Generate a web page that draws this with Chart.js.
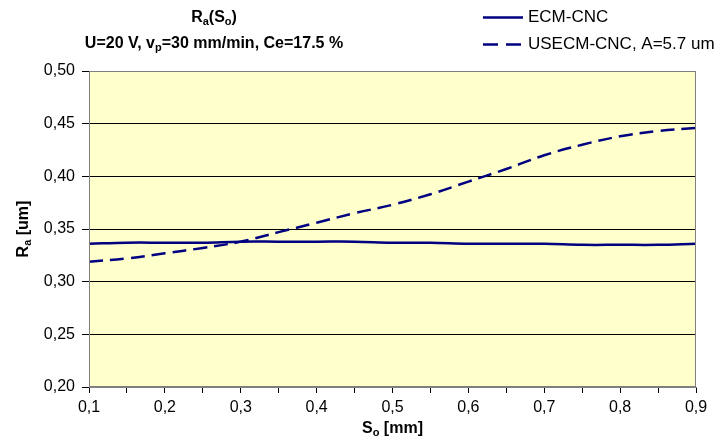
<!DOCTYPE html>
<html>
<head>
<meta charset="utf-8">
<script src="https://cdn.jsdelivr.net/npm/chart.js@4/dist/chart.umd.min.js"></script>
<style>
  html, body { margin: 0; padding: 0; background: #ffffff; }
  #wrap { width: 721px; height: 441px; position: relative; }
</style>
</head>
<body>
<div id="wrap"><canvas id="c" width="721" height="441"></canvas></div>
<script>
// ---- data ----
const soValues = [0.10, 0.15, 0.20, 0.25, 0.30, 0.35, 0.40, 0.45, 0.50, 0.55, 0.60, 0.65, 0.70, 0.75, 0.80, 0.85, 0.90];
const ecmCnc   = [0.336, 0.337, 0.337, 0.337, 0.338, 0.338, 0.338, 0.338, 0.337, 0.337, 0.336, 0.336, 0.336, 0.335, 0.335, 0.335, 0.336];
const usecmCnc = [0.319, 0.322, 0.327, 0.332, 0.338, 0.347, 0.356, 0.365, 0.373, 0.383, 0.395, 0.407, 0.420, 0.430, 0.438, 0.443, 0.446];
const seriesNames = ['ECM-CNC', 'USECM-CNC, A=5.7 um'];
const xTickValues = [0.1, 0.2, 0.3, 0.4, 0.5, 0.6, 0.7, 0.8, 0.9];
const xTickLabels = ['0,1', '0,2', '0,3', '0,4', '0,5', '0,6', '0,7', '0,8', '0,9'];
const yTickValues = [0.20, 0.25, 0.30, 0.35, 0.40, 0.45, 0.50];
const yTickLabels = ['0,20', '0,25', '0,30', '0,35', '0,40', '0,45', '0,50'];
const titleLine1 = [['R', false], ['a', true], ['(S', false], ['o', true], [')', false]];
const titleLine2 = [['U=20 V, v', false], ['p', true], ['=30 mm/min, Ce=17.5 %', false]];
const xTitle = [['S', false], ['o', true], [' [mm]', false]];
const yTitle = [['R', false], ['a', true], [' [um]', false]];

const FONT = '"Liberation Sans", Arial, sans-serif';
const NAVY = '#000080';

function richWidth(ctx, parts, size, bold) {
  let w = 0;
  for (const [t, sub] of parts) {
    ctx.font = (bold ? 'bold ' : '') + (sub ? Math.round(size * 0.7) : size) + 'px ' + FONT;
    w += ctx.measureText(t).width;
  }
  return w;
}
function drawRich(ctx, parts, x, y, size, bold, align) {
  const w = richWidth(ctx, parts, size, bold);
  let cx = align === 'center' ? x - w / 2 : (align === 'right' ? x - w : x);
  ctx.textBaseline = 'alphabetic';
  ctx.textAlign = 'left';
  for (const [t, sub] of parts) {
    ctx.font = (bold ? 'bold ' : '') + (sub ? Math.round(size * 0.7) : size) + 'px ' + FONT;
    ctx.fillText(t, cx, sub ? y + 3 : y);
    cx += ctx.measureText(t).width;
  }
}

const decorPlugin = {
  id: 'decor',
  beforeDraw(chart) {
    const { ctx, chartArea: a } = chart;
    ctx.save();
    ctx.fillStyle = '#ffffff';
    ctx.fillRect(0, 0, chart.width, chart.height);
    ctx.fillStyle = '#FFFFCC';
    ctx.fillRect(a.left, a.top, a.right - a.left, a.bottom - a.top);
    ctx.restore();
  },
  afterDraw(chart) {
    const { ctx, chartArea: a } = chart;
    ctx.save();
    ctx.strokeStyle = '#808080';
    ctx.lineWidth = 1;
    ctx.strokeRect(a.left + 0.5, a.top + 0.5, a.right - a.left - 1, a.bottom - a.top - 1);
    ctx.fillStyle = '#000000';
    drawRich(ctx, titleLine1, 214, 22, 16, true, 'center');
    drawRich(ctx, titleLine2, 214, 48, 16, true, 'center');
    drawRich(ctx, xTitle, (a.left + a.right) / 2, 433, 16, true, 'center');
    ctx.save();
    ctx.translate(28, (a.top + a.bottom) / 2);
    ctx.rotate(-Math.PI / 2);
    drawRich(ctx, yTitle, 0, 0, 16, true, 'center');
    ctx.restore();
    // legend
    const ds = chart.data.datasets;
    const ly = [17.5, 44.5];
    const lend = [523, 521];
    for (let i = 0; i < ds.length; i++) {
      ctx.strokeStyle = ds[i].borderColor;
      ctx.lineWidth = ds[i].borderWidth;
      ctx.setLineDash(ds[i].borderDash ? [15, 8] : []);
      ctx.beginPath();
      ctx.moveTo(483, ly[i]);
      ctx.lineTo(lend[i], ly[i]);
      ctx.stroke();
      ctx.setLineDash([]);
      ctx.fillStyle = '#000000';
      ctx.font = '17px ' + FONT;
      ctx.textBaseline = 'middle';
      ctx.textAlign = 'left';
      ctx.fillText(ds[i].label, 528, ly[i]);
    }
    ctx.restore();
  }
};

new Chart(document.getElementById('c'), {
  type: 'line',
  data: {
    datasets: [
      {
        label: seriesNames[0],
        data: soValues.map((x, i) => ({ x, y: ecmCnc[i] })),
        borderColor: NAVY, borderWidth: 2.5, pointRadius: 0, tension: 0.4, fill: false
      },
      {
        label: seriesNames[1],
        data: soValues.map((x, i) => ({ x, y: usecmCnc[i] })),
        borderColor: NAVY, borderWidth: 2.5, borderDash: [14, 7], pointRadius: 0, tension: 0.4, fill: false
      }
    ]
  },
  options: {
    responsive: false,
    animation: false,
    devicePixelRatio: 1,
    layout: { padding: { left: 0, top: 71, right: 25, bottom: 0 } },
    plugins: { legend: { display: false }, title: { display: false }, tooltip: { enabled: false } },
    scales: {
      x: {
        type: 'linear', min: 0.1, max: 0.9,
        afterFit(s) { s.height = 54; },
        afterBuildTicks(s) { s.ticks = soValues.map(v => ({ value: v })); },
        ticks: {
          autoSkip: false, maxRotation: 0, padding: 5, color: '#000000',
          font: { family: FONT, size: 16 },
          callback(v) {
            const i = xTickValues.findIndex(t => Math.abs(t - v) < 1e-6);
            return i >= 0 ? xTickLabels[i] : '';
          }
        },
        grid: { display: true, drawOnChartArea: false, tickLength: 6, color: '#000000', lineWidth: 1 },
        border: { display: true, color: '#808080' }
      },
      y: {
        type: 'linear', min: 0.2, max: 0.5,
        afterFit(s) { s.width = 89; },
        afterBuildTicks(s) { s.ticks = yTickValues.map(v => ({ value: v })); },
        ticks: {
          autoSkip: false, padding: 7, color: '#000000',
          font: { family: FONT, size: 16 },
          callback(v) {
            const i = yTickValues.findIndex(t => Math.abs(t - v) < 1e-6);
            return i >= 0 ? yTickLabels[i] : '';
          }
        },
        grid: { display: true, drawOnChartArea: true, tickLength: 7, color: '#000000', lineWidth: 1 },
        border: { display: true, color: '#808080' }
      }
    }
  },
  plugins: [decorPlugin]
});
</script>
</body>
</html>
